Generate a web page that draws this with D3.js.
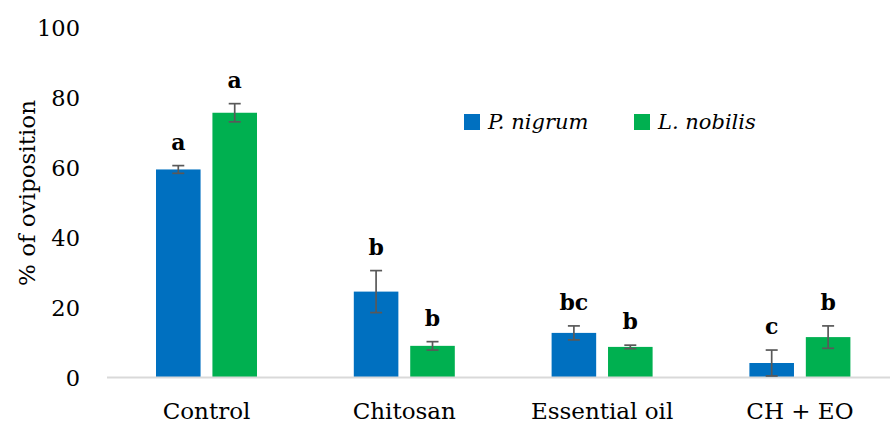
<!DOCTYPE html>
<html>
<head>
<meta charset="utf-8">
<script src="https://cdn.jsdelivr.net/npm/d3@7"></script>
<style>
  html, body { margin: 0; padding: 0; background: #fff; }
  svg { display: block; }
  text { font-family: "DejaVu Serif", "Liberation Serif", serif; fill: #000; }
</style>
</head>
<body>
<svg id="chart" width="890" height="427"></svg>
<script>
// Treatments and series
const categories = ["Control", "Chitosan", "Essential oil", "CH + EO"];
const seriesNames = ["P. nigrum", "L. nobilis"];
const pNigrum = [59.3, 24.4, 12.6, 4.0];
const pNigrumErr = [1.1, 6.0, 2.0, 3.7];
const lNobilis = [75.5, 8.9, 8.6, 11.4];
const lNobilisErr = [2.6, 1.2, 0.5, 3.2];
const pNigrumLetters = ["a", "b", "bc", "c"];
const lNobilisLetters = ["a", "b", "b", "b"];
const yTicks = [0, 20, 40, 60, 80, 100];
const colors = ["#0070C0", "#00B050"];

const svg = d3.select("#chart");

const x0 = d3.scaleBand().domain(categories).range([107.6, 898.8]).paddingInner(0).paddingOuter(0);
const x1 = d3.scaleBand().domain(seriesNames).range([0, 101]).paddingInner(0.21);
const groupOffset = (x0.bandwidth() - 101) / 2;
const y = d3.scaleLinear().domain([0, 100]).range([377, 27]);

const series = [
  { name: seriesNames[0], values: pNigrum, errs: pNigrumErr, letters: pNigrumLetters, color: colors[0] },
  { name: seriesNames[1], values: lNobilis, errs: lNobilisErr, letters: lNobilisLetters, color: colors[1] }
];

// Y tick labels (no axis line or tick marks drawn)
const yAxis = d3.axisLeft(y).tickValues(yTicks).tickSize(0).tickPadding(0);
const yg = svg.append("g").attr("transform", "translate(80,0)").call(yAxis);
yg.select(".domain").remove();
yg.selectAll("text")
  .attr("font-family", "DejaVu Serif")
  .attr("font-size", 22.5)
  .attr("fill", "#000")
  .attr("dy", "0.36em");

// Y axis title
svg.append("text")
  .attr("transform", "translate(35,193) rotate(-90)")
  .attr("text-anchor", "middle")
  .attr("font-size", 23)
  .text("% of oviposition");

// Bars
const groups = svg.append("g").selectAll("g")
  .data(series).enter().append("g");

groups.each(function (s) {
  const g = d3.select(this);
  categories.forEach((c, i) => {
    const bx = x0(c) + groupOffset + x1(s.name);
    const bw = x1.bandwidth();
    g.append("rect")
      .attr("x", bx)
      .attr("y", y(s.values[i]))
      .attr("width", bw)
      .attr("height", y(0) - y(s.values[i]))
      .attr("fill", s.color);
  });
});

// Category axis line
svg.append("line")
  .attr("x1", 107).attr("x2", 890)
  .attr("y1", y(0) + 0.5).attr("y2", y(0) + 0.5)
  .attr("stroke", "#d9d9d9").attr("stroke-width", 2);

// Error bars and significance letters
series.forEach(s => {
  categories.forEach((c, i) => {
    const cx = x0(c) + groupOffset + x1(s.name) + x1.bandwidth() / 2;
    const hi = s.values[i] + s.errs[i];
    const lo = Math.max(0, s.values[i] - s.errs[i]);
    const eb = svg.append("g").attr("stroke", "#595959").attr("stroke-width", 1.7);
    eb.append("line").attr("x1", cx).attr("x2", cx).attr("y1", y(hi)).attr("y2", y(lo));
    eb.append("line").attr("x1", cx - 6).attr("x2", cx + 6).attr("y1", y(hi)).attr("y2", y(hi));
    if (s.values[i] - s.errs[i] > 0) {
      eb.append("line").attr("x1", cx - 6).attr("x2", cx + 6).attr("y1", y(lo)).attr("y2", y(lo));
    }
    svg.append("text")
      .attr("x", cx)
      .attr("y", y(hi) - 16)
      .attr("text-anchor", "middle")
      .attr("font-size", 22)
      .attr("font-weight", "bold")
      .text(s.letters[i]);
  });
});

// Category labels
svg.append("g").selectAll("text")
  .data(categories).enter().append("text")
  .attr("x", d => x0(d) + x0.bandwidth() / 2)
  .attr("y", 419)
  .attr("text-anchor", "middle")
  .attr("font-size", 23)
  .text(d => d);

// Legend
const legendX = [464, 634];
const legend = svg.append("g").selectAll("g")
  .data(series).enter().append("g")
  .attr("transform", (d, i) => `translate(${legendX[i]},114)`);
legend.append("rect")
  .attr("width", 16).attr("height", 16)
  .attr("fill", d => d.color);
legend.append("text")
  .attr("x", 24).attr("y", 15)
  .attr("font-size", 21)
  .attr("font-style", "italic")
  .text(d => d.name);
</script>
</body>
</html>
